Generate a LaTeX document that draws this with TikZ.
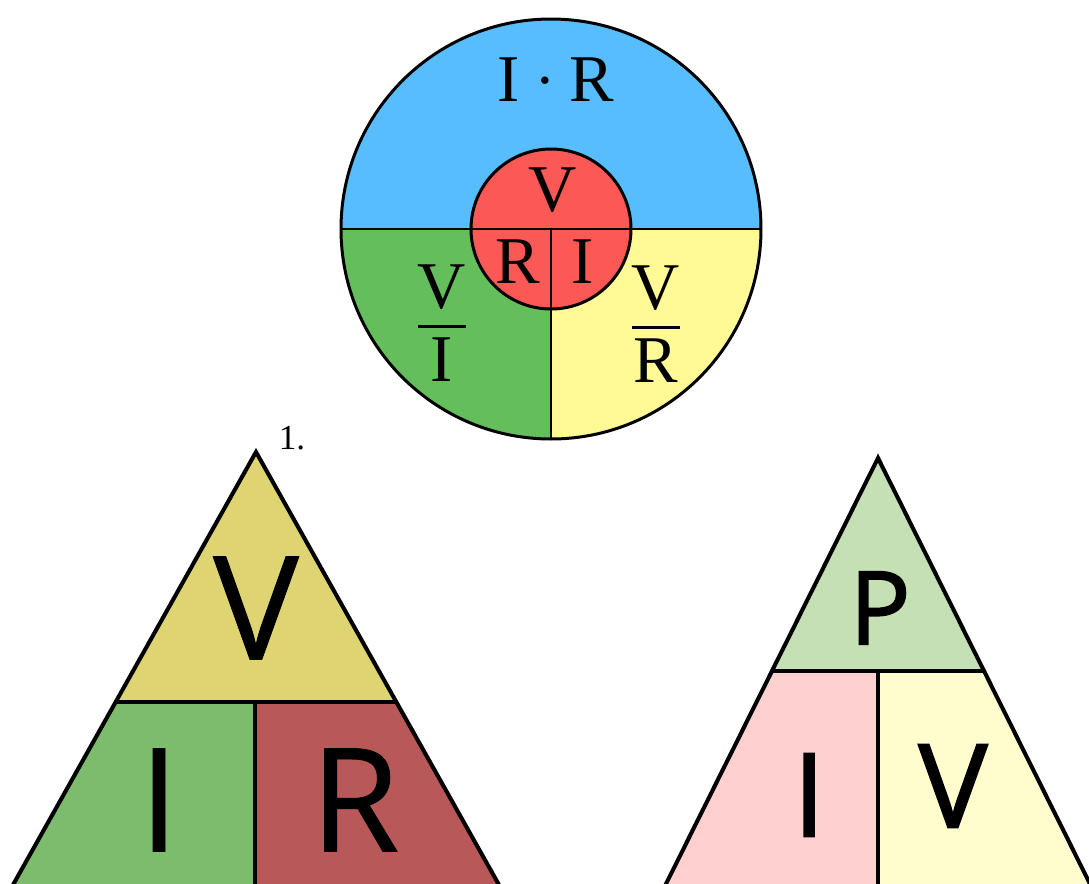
\documentclass[tikz,border=0pt]{standalone}
\usepackage{amsmath}
\usepackage{fontspec}
\setmainfont{Liberation Serif}
\newfontfamily\trisans[FakeBold=0.6]{Open Sans}
\newfontfamily\trisansb[FakeBold=1.6]{Open Sans}
\usetikzlibrary{calc}
\definecolor{ohmblue}{RGB}{88,189,252}
\definecolor{ohmgreen}{RGB}{100,190,92}
\definecolor{ohmyellow}{RGB}{255,249,150}
\definecolor{ohmred}{RGB}{252,88,86}
\definecolor{vikhaki}{RGB}{222,212,114}
\definecolor{vigreen}{RGB}{124,188,108}
\definecolor{vired}{RGB}{184,88,88}
\definecolor{pigreen}{RGB}{196,224,180}
\definecolor{pipink}{RGB}{255,208,208}
\definecolor{piyellow}{RGB}{255,253,206}

\begin{document}
\begin{tikzpicture}[x=0.02cm,y=0.02cm,
  edge/.style={line width=1.7pt,line join=round},
  triedge/.style={line width=2.3pt,line join=miter},
  circtext/.style={inner sep=0pt,font=\fontsize{38}{40}\selectfont},
  bigtext/.style={inner sep=0pt,font=\trisans\fontsize{82}{84}\selectfont},
  smalltext/.style={inner sep=0pt,font=\trisansb\fontsize{66}{68}\selectfont}]
\clip (0,0) rectangle (1089,-883);
\fill[white] (0,0) rectangle (1089,-883);

% circle
\coordinate (O) at (551,-229);
\fill[ohmblue] (O) ++(180:210) arc[start angle=180,end angle=0,radius=210] -- cycle;
\fill[ohmgreen] (O) -- ++(180:210) arc[start angle=180,end angle=270,radius=210] -- cycle;
\fill[ohmyellow] (O) -- ++(270:210) arc[start angle=270,end angle=360,radius=210] -- cycle;
\draw[edge] (O) ++(180:210) -- ++(420,0);
\draw[edge] (O) -- ++(0,-210);
\draw[edge] (O) circle[radius=210];
\draw[edge,fill=ohmred] (O) circle[radius=80];
\draw[edge] (O) ++(180:80) -- ++(160,0);
\draw[edge] (O) -- ++(0,-80);

\node[circtext] (ir) at (556,-80) {I\hspace{0.3em}\raisebox{9.5pt}{\fontsize{11}{11}\selectfont$\bullet$}\hspace{0.3em}R};
\node[circtext] (cv) at (553,-190) {V};
\node[circtext] (cr) at (518,-262) {R};
\node[circtext] (ci) at (583,-262) {I};
\node[circtext] (vi) at (442,-323) {$\genfrac{}{}{1.8pt}{0}{\textrm{V}}{\textrm{I}}$};
\node[circtext] (vr) at (656,-324) {$\genfrac{}{}{1.8pt}{0}{\textrm{V}}{\textrm{R}}$};

\node[inner sep=0pt,font=\fontsize{20}{22}\selectfont] (num) at (292,-438) {1.};

% V = I R triangle
\coordinate (lA) at (256,-452);
\coordinate (lB) at (4.5,-900);
\coordinate (lC) at (507.5,-900);
\coordinate (lL) at ($(lA)!0.558!(lB)$);
\coordinate (lR) at ($(lA)!0.558!(lC)$);
\coordinate (lM) at (255,-702);
\coordinate (lD) at (255,-900);
\fill[vikhaki] (lA) -- (lL) -- (lR) -- cycle;
\fill[vigreen] (lL) -- (lM) -- (lD) -- (lB) -- cycle;
\fill[vired] (lM) -- (lR) -- (lC) -- (lD) -- cycle;
\draw[triedge] (lL) -- (lR);
\draw[triedge] (lM) -- (lD);
\draw[triedge] (lB) -- (lA) -- (lC);

\node[bigtext] (tv) at (256,-608) {V};
\node[bigtext] (ti) at (159,-800) {I};
\node[bigtext] (tr) at (355,-800) {R};

% P = I V triangle
\coordinate (rA) at (878,-458);
\coordinate (rB) at (658,-900);
\coordinate (rC) at (1098,-900);
\coordinate (rL) at ($(rA)!0.482!(rB)$);
\coordinate (rR) at ($(rA)!0.482!(rC)$);
\coordinate (rM) at (878,-671);
\coordinate (rD) at (878,-900);
\fill[pigreen] (rA) -- (rL) -- (rR) -- cycle;
\fill[pipink] (rL) -- (rM) -- (rD) -- (rB) -- cycle;
\fill[piyellow] (rM) -- (rR) -- (rC) -- (rD) -- cycle;
\draw[triedge] (rL) -- (rR);
\draw[triedge] (rM) -- (rD);
\draw[triedge] (rB) -- (rA) -- (rC);

\node[smalltext,font=\trisansb\fontsize{58}{60}\selectfont] (tp) at (880,-608) {P};
\node[smalltext] (pi) at (809,-795) {I};
\node[smalltext] (pv) at (953,-786) {V};
\end{tikzpicture}
\end{document}
